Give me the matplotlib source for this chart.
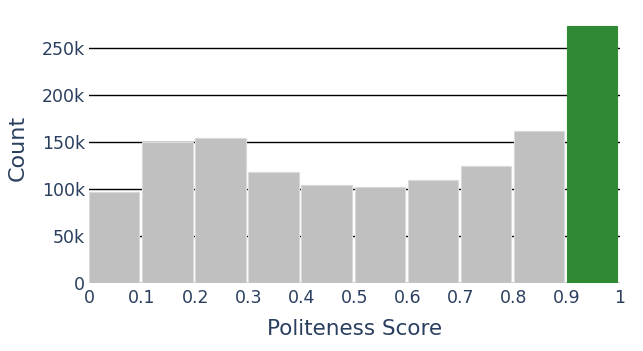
import matplotlib.pyplot as plt
from matplotlib.ticker import FuncFormatter

# histogram of politeness scores, 10 bins of width 0.1
bin_left = [0.0, 0.1, 0.2, 0.3, 0.4, 0.5, 0.6, 0.7, 0.8, 0.9]
counts = [96800, 149600, 153900, 118000, 104000, 102000, 109600, 124500, 161400, 273400]
bar_colors = ['#c0c0c0'] * 9 + ['#2e8b34']
edge_colors = ['#d9d9d9'] * 9 + ['#2e8b34']
xticks = [0, 0.1, 0.2, 0.3, 0.4, 0.5, 0.6, 0.7, 0.8, 0.9, 1]
xticklabels = ['0', '0.1', '0.2', '0.3', '0.4', '0.5', '0.6', '0.7', '0.8', '0.9', '1']
yticks = [0, 50000, 100000, 150000, 200000, 250000]

txt = '#2a3f5f'
plt.rcParams['font.family'] = 'DejaVu Sans'

fig = plt.figure(figsize=(6.43, 3.51), dpi=100)
ax = fig.add_axes([89/643, 68/351, 531/643, 270/351])

ax.bar(bin_left, counts, width=0.095, align='edge', color=bar_colors,
       edgecolor=edge_colors, linewidth=0.8, zorder=3)
ax.set_xlim(0, 1)
ax.set_ylim(0, 287000)

ax.set_yticks(yticks)
ax.yaxis.set_major_formatter(FuncFormatter(lambda v, p: '0' if v == 0 else '%dk' % (v / 1000)))
ax.set_xticks(xticks)
ax.set_xticklabels(xticklabels)
ax.grid(axis='y', color='black', linewidth=1, zorder=0)
ax.tick_params(axis='both', length=0, labelsize=12.5, colors=txt)
ax.tick_params(axis='y', pad=3)
ax.tick_params(axis='x', pad=4)
for s in ax.spines.values():
    s.set_visible(False)

ax.set_xlabel('Politeness Score', fontsize=15.5, color=txt, labelpad=9)
ax.set_ylabel('Count', fontsize=16, color=txt, labelpad=10)

fig.savefig('out.png', dpi=100)
